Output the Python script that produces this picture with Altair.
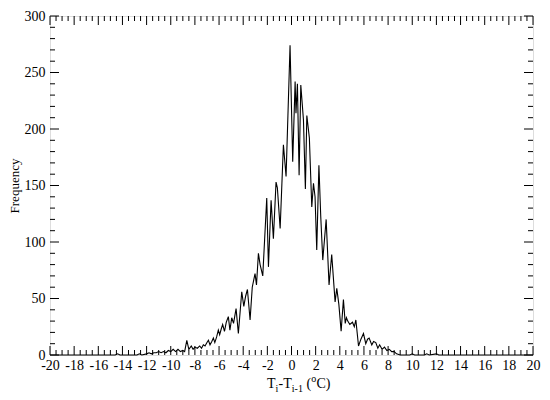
import altair as alt
import pandas as pd

# Temperature difference (°C) and frequency
dt = [-20, -15, -14.6, -14.4, -14.2, -13, -12.8, -12.6, -12.4, -12.0, -11.8, -11.6, -11.4, -11.2,
      -11.0, -10.8, -10.6, -10.4, -10.2, -10.0, -9.8, -9.6, -9.4, -9.2, -9.0, -8.85, -8.67, -8.5,
      -8.3, -8.15, -8.0, -7.8, -7.6, -7.45, -7.3, -7.16, -7.0, -6.88, -6.75, -6.6, -6.47, -6.35,
      -6.2, -6.06, -5.95, -5.82, -5.70, -5.55, -5.4, -5.23, -5.1, -4.95, -4.8, -4.59, -4.40, -4.12,
      -3.95, -3.8, -3.65, -3.43, -3.25, -3.02, -2.9, -2.74, -2.6, -2.38, -2.05, -1.91, -1.69, -1.50,
      -1.28, -1.17, -0.94, -0.67, -0.45, -0.12, 0.10, 0.30, 0.37, 0.49, 0.63, 0.77, 0.99, 1.15,
      1.27, 1.48, 1.68, 1.82, 1.95, 2.09, 2.27, 2.42, 2.59, 2.87, 3.11, 3.33, 3.61, 3.75, 3.92,
      4.11, 4.30, 4.45, 4.55, 4.66, 4.83, 5.05, 5.2, 5.33, 5.55, 5.75, 5.96, 6.15, 6.3, 6.43, 6.65,
      6.8, 6.98, 7.15, 7.3, 7.5, 7.7, 7.9, 8.1, 8.3, 8.5, 8.7, 9.0, 9.8, 10.0, 10.2, 11.0, 11.2,
      11.4, 12.0, 12.2, 13.0, 20]
freq = [0, 0, 0, 1, 0, 0, 0, 1, 0, 1, 2, 1, 2, 2,
        3, 2, 3, 2, 4, 3, 5, 3, 5, 3, 4, 3, 13, 5,
        8, 5, 7, 6, 8, 6, 9, 8, 11, 13, 9, 12, 15, 11,
        16, 22, 18, 23, 27, 21, 29, 34, 22, 33, 28, 41, 19, 56,
        43, 52, 58, 31, 60, 72, 62, 90, 80, 70, 139, 78, 137, 103,
        153, 148, 112, 186, 158, 274, 171, 242, 214, 240, 159, 239, 208, 147,
        212, 192, 131, 152, 140, 93, 168, 123, 84, 120, 62, 89, 47, 59, 45,
        21, 49, 28, 33, 30, 27, 29, 25, 31, 8, 14, 19, 10, 14, 15, 9,
        12, 11, 6, 9, 5, 7, 4, 5, 3, 3, 1, 0, 0, 1, 0, 0, 1,
        0, 1, 0, 0, 0]

x_major = list(range(-20, 21, 2))
x_minor = [v / 2 for v in range(-40, 41) if v % 4 != 0]
y_major = list(range(0, 301, 50))
y_minor = [v for v in range(0, 301, 10) if v % 50 != 0]

W, H = 483, 339
MAJ, MIN = 9, 5
FONT = "'Liberation Serif', 'Times New Roman', 'DejaVu Serif', serif"

df = pd.DataFrame({"x": dt, "f": freq})
xs = alt.Scale(domain=[-20, 20], nice=False, zero=False)
ys = alt.Scale(domain=[0, 300], nice=False)

ax_x = alt.Axis(values=x_major, ticks=False, domain=False, grid=False,
                labelPadding=3, labelFontSize=14, labelFont=FONT, labelColor="black",
                labelExpr="toString(datum.value)", title=None, labelFlush=False)
ax_y = alt.Axis(values=y_major, ticks=False, domain=False, grid=False,
                labelPadding=5, labelFontSize=14, labelFont=FONT, labelColor="black",
                title="Frequency", titleFont=FONT, titleFontSize=13, titleFontWeight="normal",
                titleColor="black", titlePadding=3, labelFlush=False)

line = alt.Chart(df).mark_line(color="black", strokeWidth=1.1).encode(
    x=alt.X("x:Q", scale=xs, axis=ax_x, title=None),
    y=alt.Y("f:Q", scale=ys, axis=ax_y, title="Frequency"),
)

def xticks(vals, L):
    d = pd.DataFrame({"v": vals})
    b = alt.Chart(d).mark_rule(color="black", strokeWidth=1)
    bot = b.encode(x=alt.X("v:Q", scale=xs, axis=ax_x, title=None), y=alt.value(H), y2=alt.value(H - L))
    top = b.encode(x=alt.X("v:Q", scale=xs, axis=ax_x, title=None), y=alt.value(0), y2=alt.value(L))
    return [bot, top]

def yticks(vals, L):
    d = pd.DataFrame({"v": vals})
    b = alt.Chart(d).mark_rule(color="black", strokeWidth=1)
    lft = b.encode(y=alt.Y("v:Q", scale=ys, axis=ax_y, title="Frequency"), x=alt.value(0), x2=alt.value(L))
    rgt = b.encode(y=alt.Y("v:Q", scale=ys, axis=ax_y, title="Frequency"), x=alt.value(W), x2=alt.value(W - L))
    return [lft, rgt]

one = pd.DataFrame({"k": [0]})

def txt(s, x, y, size):
    return alt.Chart(one).mark_text(font=FONT, fontSize=size, align="left", baseline="alphabetic",
                                    color="black").encode(
        x=alt.value(x), y=alt.value(y), text=alt.value(s))

base_y = 372
title_parts = [
    txt("T", 217, base_y, 14),
    txt("i", 225.6, base_y + 4, 10),
    txt("-T", 228.5, base_y, 14),
    txt("i-1", 241.8, base_y + 4, 10),
    txt("(", 256.5, base_y, 14),
    txt("o", 261.3, base_y - 6, 10),
    txt("C)", 266.5, base_y, 14),
]

layers = [line] + xticks(x_major, MAJ) + xticks(x_minor, MIN) + yticks(y_major, MAJ) + \
    yticks(y_minor, MIN) + title_parts

chart = alt.layer(*layers).properties(
    width=W, height=H,
    autosize=alt.AutoSizeParams(type="none"),
    padding={"left": 42, "top": 8, "right": 8, "bottom": 38},
    background="white",
).configure_view(stroke="black", strokeWidth=1).configure_axis(
    labelFont=FONT, titleFont=FONT, labelFontSize=14, labelColor="black"
).configure(font=FONT)

chart.save("out.html", embed_options={"renderer": "svg", "actions": False})
